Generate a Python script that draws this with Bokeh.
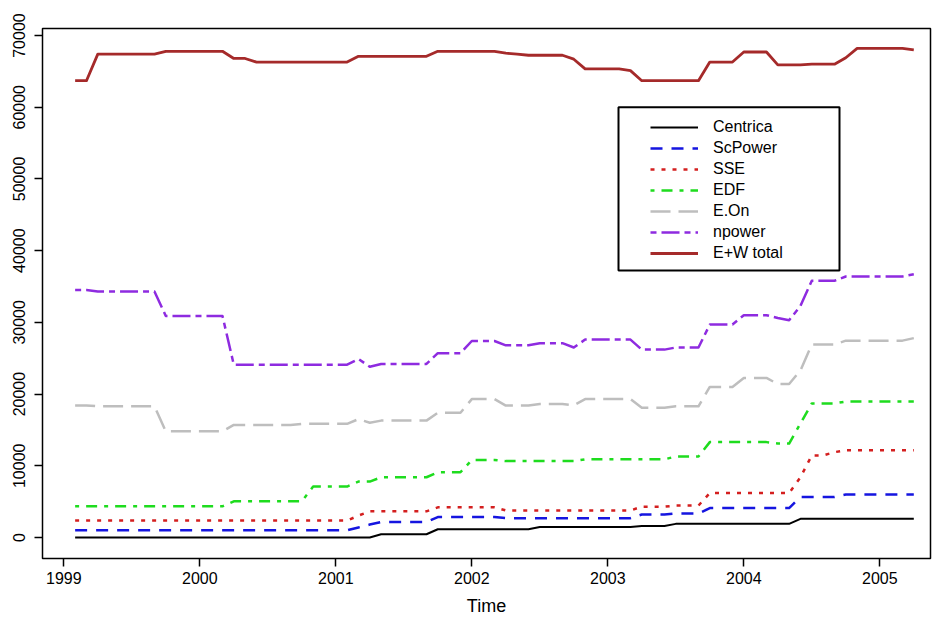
import pandas as pd
from bokeh.plotting import figure
from bokeh.models import (Range1d, FixedTicker, Legend, LegendItem, BoxAnnotation,
                          ColumnDataSource, NumeralTickFormatter)
from bokeh.embed import file_html
from bokeh.resources import INLINE

# ---------------- data (monthly, Feb 1999 .. Apr 2005) ----------------
start_month = "1999-02"
n_months = 75

centrica = [0]*27 + [450]*5 + [1150]*9 + [1450]*9 + [1600]*3 + [1900]*11 + [2600]*11

scpower = ([1000]*25 + [1400, 1800] + [2150]*5 + [2850]*6 + [2700]*12 + [3200]*3 +
           [3350]*3 + [4100]*8 + [5650]*4 + [6000]*7)

sse = ([2370]*25 + [3050] + [3650]*6 + [4200]*6 + [3770]*12 + [4300]*3 + [4450]*3 +
       [6200]*8 + [8400] + [11450]*2 + [11900] + [12150]*7)

edf = ([4350]*14 + [5050]*7 + [7100]*4 + [7800]*2 + [8400]*5 + [9100]*3 + [10800]*3 +
       [10650]*7 + [10900]*8 + [11300]*3 + [13300]*6 + [13100]*2 + [15900] +
       [18700]*3 + [18950]*7)

eon = ([18400]*2 + [18300]*6 + [14800]*6 + [15700]*6 + [15850]*5 + [16500, 16000] +
       [16300]*5 + [17400]*3 + [19300]*3 + [18400]*3 + [18600]*3 + [18450] +
       [19300]*5 + [18100]*3 + [18300]*3 + [21000]*3 + [22250]*3 + [21400]*2 +
       [23300] + [26900]*3 + [27450]*6 + [27800])

npower = ([34500]*2 + [34300]*6 + [30900]*6 + [24100]*11 + [24900, 23800] +
          [24200]*5 + [25700]*3 + [27400]*3 + [26800]*3 + [27100]*3 + [26500] +
          [27600]*5 + [26200]*3 + [26500]*3 + [29700]*3 + [31000]*3 + [30600, 30300] +
          [32300] + [35800]*3 + [36400]*6 + [36700])

ew_total = ([63700]*2 + [67400]*6 + [67800]*6 + [66800]*2 + [66300]*9 + [67100]*7 +
            [67800]*6 + [67550, 67400] + [67250]*4 + [66700] + [65350]*4 + [65100] +
            [63700]*6 + [66300]*3 + [67700]*3 + [65900]*3 + [66000]*3 + [66900] +
            [68200]*5 + [68000])

series_names = ["Centrica", "ScPower", "SSE", "EDF", "E.On", "npower", "E+W total"]
x_ticks = [1999, 2000, 2001, 2002, 2003, 2004, 2005]
y_ticks = [0, 10000, 20000, 30000, 40000, 50000, 60000, 70000]

# ---------------- styles ----------------
colors = ["#000000", "#1515E0", "#D41F1F", "#1EDC1E", "#BEBEBE", "#8E2BE0", "#A52A2A"]
dashes = ["solid", "12 9", "4 7", "4 7 11 7", "20 8", "6 5 18 5", "solid"]
widths = [2, 2.5, 2.5, 2.5, 2.5, 2.5, 2.8]

periods = pd.period_range(start_month, periods=n_months, freq="M")
time = list(periods.year + (periods.month - 1) / 12.0)

values = [centrica, scpower, sse, edf, eon, npower, ew_total]
data = {"time": time}
keys = ["centrica", "scpower", "sse", "edf", "eon", "npower", "ew_total"]
for k, v in zip(keys, values):
    data[k] = v
src = ColumnDataSource(data)

FONT = "Liberation Sans"

p = figure(width=934, height=619, output_backend="svg", toolbar_location=None,
           x_range=Range1d(1998.8434, 2005.3728), y_range=Range1d(-2930, 70980),
           min_border_left=42, min_border_right=4, min_border_top=28, min_border_bottom=61)
p.background_fill_color = "white"
p.border_fill_color = "white"
p.outline_line_color = "black"
p.outline_line_width = 1.5
p.xgrid.visible = False
p.ygrid.visible = False

p.xaxis.ticker = FixedTicker(ticks=x_ticks)
p.yaxis.ticker = FixedTicker(ticks=y_ticks)
p.yaxis.formatter = NumeralTickFormatter(format="0")
p.yaxis.major_label_orientation = "vertical"
for ax in (p.xaxis, p.yaxis):
    ax.axis_line_color = None
    ax.major_tick_line_color = "black"
    ax.major_tick_line_width = 1.5
    ax.major_tick_out = 8
    ax.major_tick_in = 0
    ax.minor_tick_line_color = None
    ax.major_label_text_font = FONT
    ax.major_label_text_font_size = "16px"
    ax.major_label_text_color = "black"
p.xaxis.major_label_standoff = 5
p.yaxis.major_label_standoff = 9
p.xaxis.axis_label = "Time"
p.xaxis.axis_label_text_font = FONT
p.xaxis.axis_label_text_font_size = "18px"
p.xaxis.axis_label_text_font_style = "normal"
p.xaxis.axis_label_text_color = "black"
p.xaxis.axis_label_standoff = 9

# legend frame (layout constants, in axis units)
legend_box = BoxAnnotation(left=2003.0787, right=2004.7037, top=60005, bottom=37232,
                           fill_color="white", fill_alpha=1.0,
                           line_color="black", line_alpha=1.0, line_width=2,
                           level="annotation")
p.add_layout(legend_box)

items = []
for name, k, c, d, w in zip(series_names, keys, colors, dashes, widths):
    r = p.line("time", k, source=src, line_color=c, line_dash=d, line_width=w,
               line_join="round")
    items.append(LegendItem(label=name, renderers=[r]))

legend = Legend(items=items, location=(598, 285), padding=10, spacing=1,
                glyph_width=48, glyph_height=20, label_height=20, label_standoff=15,
                border_line_alpha=0, background_fill_alpha=0,
                label_text_font=FONT, label_text_font_size="16px",
                label_text_color="black", margin=0)
p.add_layout(legend, "center")

open("out.html", "w").write(file_html(p, INLINE))
